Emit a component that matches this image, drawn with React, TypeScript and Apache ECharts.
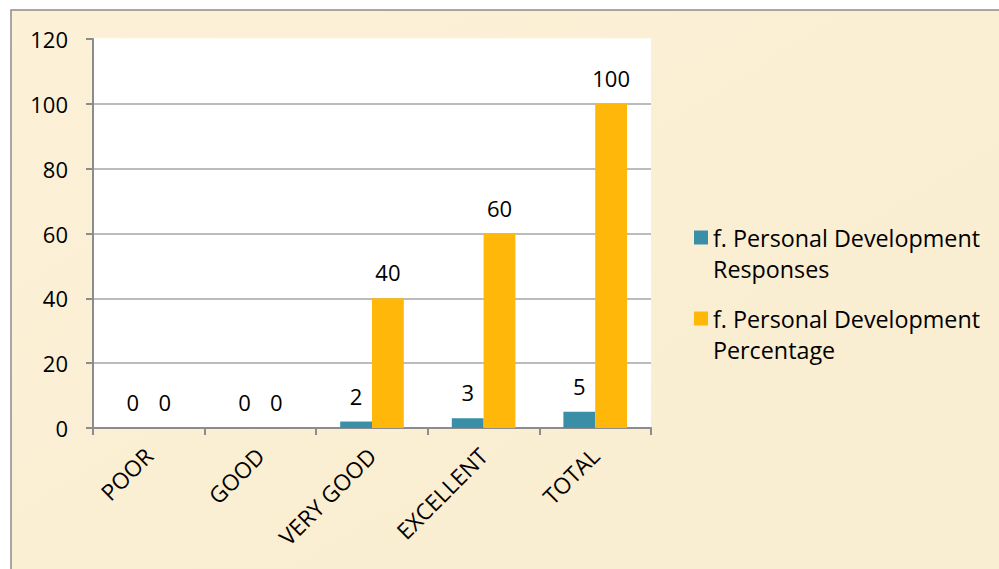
import React, { useEffect, useRef } from "react";
import * as echarts from "echarts";

const categories = ["POOR", "GOOD", "VERY GOOD", "EXCELLENT", "TOTAL"];
const responses = [0, 0, 2, 3, 5];
const percentage = [0, 0, 40, 60, 100];
const seriesNames = ["f. Personal Development Responses", "f. Personal Development Percentage"];
const yTicks = [0, 20, 40, 60, 80, 100, 120];

const FONT = "'Open Sans', 'Noto Sans', sans-serif";

export default function App() {
  const ref = useRef<HTMLDivElement>(null);
  useEffect(() => {
    if (!ref.current) return;
    const chart = echarts.init(ref.current, undefined, { renderer: "svg" });
    const iconPath = "path://M0,0 h0.01 v0.01 h-0.01 Z M0,8.5 h14 v14 h-14 Z M0,61.99 h0.01 v0.01 h-0.01 Z";
    chart.setOption({
      animation: false,
      backgroundColor: "#ffffff",
      graphic: [
        {
          type: "rect",
          shape: { x: 11, y: 10, width: 1000, height: 600 },
          style: {
            fill: {
              type: "linear",
              x: 0, y: 0, x2: 1, y2: 1,
              colorStops: [
                { offset: 0, color: "#fcf1d7" },
                { offset: 0.5, color: "#faeed3" },
                { offset: 1, color: "#f9edd1" },
              ],
            },
            stroke: "#8c8c8c",
            lineWidth: 1.5,
          },
          z: -10,
          silent: true,
        },
      ],
      grid: {
        left: 93,
        right: 348,
        top: 39,
        bottom: 141,
        show: true,
        backgroundColor: "#ffffff",
        borderWidth: 0,
      },
      legend: {
        orient: "vertical",
        left: 694,
        top: 222,
        padding: 0,
        itemGap: 19,
        itemWidth: 14,
        itemHeight: 62,
        icon: iconPath,
        data: seriesNames,
        formatter: (name: string) => name.replace(" Development ", " Development\n"),
        textStyle: { fontFamily: FONT, fontSize: 23.3, color: "#000", lineHeight: 31 },
      },
      xAxis: {
        type: "category",
        data: categories,
        axisLine: { show: true, lineStyle: { color: "#8c8c8c", width: 2 } },
        axisTick: { show: true, length: 7, alignWithLabel: false, lineStyle: { color: "#8c8c8c", width: 2 } },
        axisLabel: {
          rotate: 45,
          margin: 24,
          interval: 0,
          fontFamily: FONT,
          fontSize: 22.5,
          color: "#000",
        },
      },
      yAxis: {
        type: "value",
        min: 0,
        max: 120,
        interval: 20,
        axisLine: { show: true, lineStyle: { color: "#8c8c8c", width: 2 } },
        axisTick: { show: true, length: 7, lineStyle: { color: "#8c8c8c", width: 2 } },
        axisLabel: {
          margin: 25,
          fontFamily: FONT,
          fontSize: 22,
          color: "#000",
          formatter: (v: number) => (yTicks.includes(v) ? String(v) : ""),
        },
        splitLine: {
          show: true,
          lineStyle: {
            color: ["#a6a6a6", "#a6a6a6", "#a6a6a6", "#a6a6a6", "#a6a6a6", "#a6a6a6", "#ffffff"],
            width: 1.5,
          },
        },
      },
      series: [
        {
          name: seriesNames[0],
          type: "bar",
          data: responses,
          barGap: "0%",
          barCategoryGap: "43%",
          itemStyle: { color: "#3a8fa6" },
          label: {
            show: true,
            position: "top",
            distance: 15,
            fontFamily: FONT,
            fontSize: 22,
            color: "#000",
          },
        },
        {
          name: seriesNames[1],
          type: "bar",
          data: percentage,
          barGap: "0%",
          barCategoryGap: "43%",
          itemStyle: { color: "#ffb80a" },
          label: {
            show: true,
            position: "top",
            distance: 15,
            fontFamily: FONT,
            fontSize: 22,
            color: "#000",
          },
        },
      ],
    });
    return () => chart.dispose();
  }, []);
  return (
    <div
      ref={ref}
      style={{ position: "fixed", left: 0, top: 0, width: 999, height: 569 }}
    />
  );
}
